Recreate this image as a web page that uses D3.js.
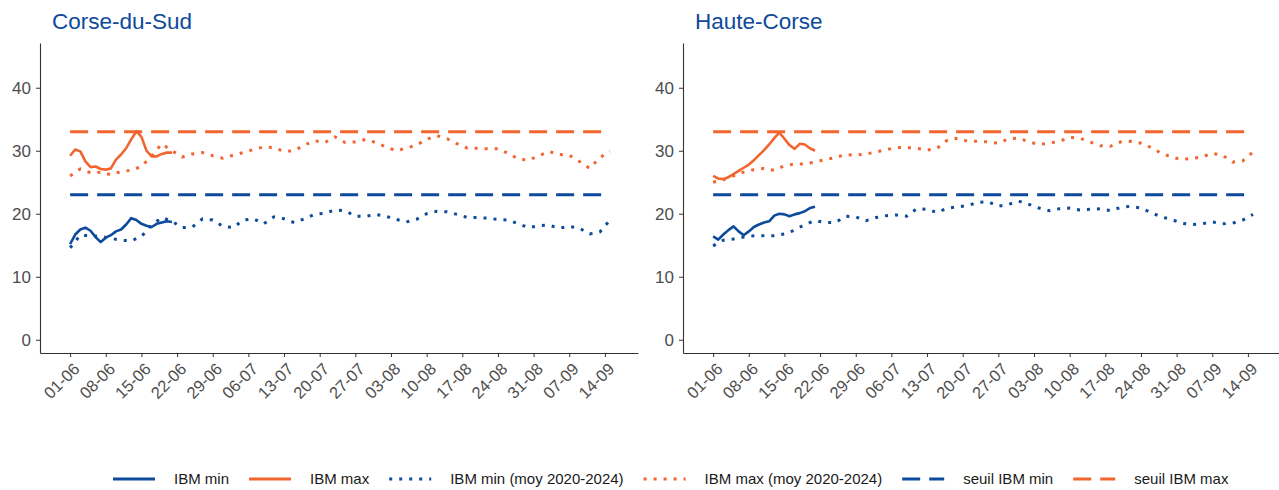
<!DOCTYPE html>
<html>
<head>
<meta charset="utf-8">
<script src="https://cdn.jsdelivr.net/npm/d3@7"></script>
<style>
  body { margin: 0; background: #fff; }
  svg { display: block; font-family: "Liberation Sans", Arial, sans-serif; }
</style>
</head>
<body>
<div class="chart"></div>
<script>
// panels
const regions = ["Corse-du-Sud", "Haute-Corse"];

// x ticks (every 7 days from 01-06)
const tickLabels = ["01-06", "08-06", "15-06", "22-06", "29-06", "06-07", "13-07", "20-07",
  "27-07", "03-08", "10-08", "17-08", "24-08", "31-08", "07-09", "14-09"];
const yTicks = [0, 10, 20, 30, 40];

// seuils
const seuilMin = 23;
const seuilMax = 33;

// observed 2025, daily from 01-06 to 21-06
const obsMinSud = [15.2, 16.7, 17.5, 17.8, 17.3, 16.3, 15.5, 16.2, 16.6, 17.2, 17.5,
  18.3, 19.3, 19.0, 18.4, 18.1, 17.9, 18.4, 18.6, 18.8, 18.7];
const obsMaxSud = [29.2, 30.2, 29.9, 28.3, 27.4, 27.5, 27.1, 27.0, 27.2, 28.6, 29.4,
  30.4, 31.8, 33.1, 32.2, 30.0, 29.1, 29.1, 29.5, 29.7, 29.7];
const obsMinHaute = [16.4, 15.9, 16.7, 17.4, 18.0, 17.2, 16.6, 17.2, 17.9, 18.3, 18.6,
  18.8, 19.7, 20.0, 19.9, 19.6, 19.9, 20.1, 20.4, 20.9, 21.1];
const obsMaxHaute = [26.0, 25.6, 25.5, 25.8, 26.3, 26.8, 27.3, 27.8, 28.5, 29.3, 30.1,
  31.0, 32.0, 32.9, 31.9, 30.9, 30.3, 31.1, 31.0, 30.4, 30.0];

// moyenne 2020-2024, one value every 2 days from 01-06 to 15-09
const avgMinSud = [14.6, 16.6, 16.5, 16.4, 16.1, 15.8, 15.7, 16.4, 18.2, 19.4, 18.8,
  17.8, 17.9, 19.2, 19.0, 18.0, 17.8, 19.0, 19.2, 18.4, 19.5, 19.2, 18.6, 19.2, 19.9,
  20.1, 20.6, 20.5, 19.6, 19.6, 19.9, 19.6, 19.1, 18.7, 19.1, 20.0, 20.4, 20.3, 19.9,
  19.4, 19.4, 19.3, 19.1, 19.0, 18.4, 17.8, 18.1, 18.2, 17.7, 18.0, 17.7, 16.8, 17.1, 19.0];
const avgMaxSud = [26.0, 27.1, 26.5, 26.6, 26.2, 26.7, 26.9, 27.5, 29.2, 31.1, 30.0,
  29.0, 29.5, 29.7, 29.2, 28.8, 29.3, 29.7, 30.2, 30.6, 30.5, 29.9, 30.0, 30.9, 31.6,
  31.3, 32.2, 31.3, 31.4, 31.8, 31.3, 30.6, 30.0, 30.4, 30.9, 31.8, 32.4, 31.9, 31.1,
  30.4, 30.4, 30.3, 30.3, 29.6, 28.7, 28.5, 29.2, 29.9, 29.4, 29.3, 28.3, 27.2, 28.9, 29.9];
const avgMinHaute = [14.9, 15.8, 16.0, 16.3, 16.5, 16.5, 16.5, 16.8, 17.4, 18.3, 18.9,
  18.6, 18.6, 19.6, 19.5, 18.9, 19.4, 19.7, 19.8, 19.6, 20.8, 20.7, 20.2, 20.9, 21.1,
  21.3, 21.8, 21.9, 21.2, 21.5, 22.0, 21.5, 20.9, 20.5, 20.8, 20.9, 20.6, 20.7, 20.8,
  20.5, 21.0, 21.2, 20.9, 20.2, 19.5, 19.1, 18.5, 18.3, 18.4, 18.7, 18.4, 18.5, 19.0, 19.9];
const avgMaxHaute = [25.0, 25.4, 26.0, 26.6, 27.0, 27.2, 26.9, 27.6, 27.9, 27.9, 28.2,
  28.6, 28.9, 29.4, 29.3, 29.5, 29.8, 30.2, 30.5, 30.5, 30.4, 30.1, 30.4, 31.7, 32.0,
  31.5, 31.5, 31.4, 31.2, 31.9, 32.0, 31.4, 31.0, 31.2, 31.5, 32.1, 32.0, 31.4, 30.8,
  30.7, 31.4, 31.5, 31.2, 30.5, 29.6, 29.0, 28.6, 28.8, 29.0, 29.6, 29.3, 28.2, 28.4, 29.8];

const panelData = [
  {obsMin: obsMinSud, obsMax: obsMaxSud, avgMin: avgMinSud, avgMax: avgMaxSud},
  {obsMin: obsMinHaute, obsMax: obsMaxHaute, avgMin: avgMinHaute, avgMax: avgMaxHaute}
];

const blue = "#0d4a9b";
const orange = "#f2652f";
const W = 1279, H = 490;

const svg = d3.select(".chart").append("svg")
  .attr("width", W).attr("height", H);

const start = new Date(2025, 5, 1);
const day = (i) => d3.timeDay.offset(start, i);
const parseTick = (s) => new Date(2025, +s.slice(3) - 1, +s.slice(0, 2));

const panelW = 598, panelLeft = [40, 683];
const plotTop = 43, plotBottom = 353;

const y = d3.scaleLinear().domain([-2.1, 47.1]).range([plotBottom, plotTop]);

regions.forEach(function(name, p) {
  const d = panelData[p];
  const g = svg.append("g");
  const x0 = panelLeft[p];
  const x = d3.scaleTime()
    .domain([d3.timeHour.offset(day(0), -5.9 * 24), d3.timeHour.offset(day(0), 111.5 * 24)])
    .range([x0, x0 + panelW]);

  // title
  g.append("text")
    .attr("x", x0 + 12).attr("y", 29)
    .attr("fill", blue)
    .style("font-size", "22.5px")
    .text(name);

  // axes
  g.append("g")
    .attr("transform", "translate(" + x0 + ",0)")
    .call(d3.axisLeft(y).tickValues(yTicks).tickSize(4).tickSizeOuter(0).tickPadding(5))
    .call(function(a) {
      a.select(".domain").attr("stroke", "#333").attr("stroke-width", 1.1);
      a.selectAll(".tick line").attr("stroke", "#333");
      a.selectAll("text").attr("fill", "#4d4d4d").style("font-size", "17px")
        .attr("font-family", null);
    });

  g.append("g")
    .attr("transform", "translate(0," + plotBottom + ")")
    .call(d3.axisBottom(x).tickValues(tickLabels.map(parseTick)).tickSize(4).tickSizeOuter(0)
      .tickFormat(function(t, i) { return tickLabels[i]; }))
    .call(function(a) {
      a.select(".domain").attr("stroke", "#333").attr("stroke-width", 1.1);
      a.selectAll(".tick line").attr("stroke", "#333");
      a.selectAll("text").attr("fill", "#4d4d4d").style("font-size", "16.5px")
        .attr("font-family", null)
        .attr("text-anchor", "end")
        .attr("y", 0)
        .attr("dy", null)
        .attr("transform", "translate(10,17) rotate(-45)");
    });

  const line = d3.line().x(function(v) { return x(v[0]); }).y(function(v) { return y(v[1]); });
  const obsPts = (arr) => arr.map((v, i) => [day(i), v]);
  const avgPts = (arr) => arr.map((v, i) => [day(i * 2), v]);
  const lastDay = day(106);

  // seuils
  [[seuilMin, blue], [seuilMax, orange]].forEach(function(s) {
    g.append("path")
      .attr("d", line([[day(0), s[0]], [lastDay, s[0]]]))
      .attr("fill", "none").attr("stroke", s[1])
      .attr("stroke-width", 3).attr("stroke-dasharray", "18,9");
  });

  // moyennes
  [[d.avgMin, blue], [d.avgMax, orange]].forEach(function(s) {
    g.append("path")
      .attr("d", line(avgPts(s[0])))
      .attr("fill", "none").attr("stroke", s[1])
      .attr("stroke-width", 3).attr("stroke-dasharray", "3,7");
  });

  // observations
  [[d.obsMin, blue], [d.obsMax, orange]].forEach(function(s) {
    g.append("path")
      .attr("d", line(obsPts(s[0])))
      .attr("fill", "none").attr("stroke", s[1])
      .attr("stroke-width", 2.6).attr("stroke-linejoin", "round");
  });
});

// legend
const legendItems = [
  {label: "IBM min", color: blue, dash: null},
  {label: "IBM max", color: orange, dash: null},
  {label: "IBM min (moy 2020-2024)", color: blue, dash: "3,7"},
  {label: "IBM max (moy 2020-2024)", color: orange, dash: "3,7"},
  {label: "seuil IBM min", color: blue, dash: "18,9"},
  {label: "seuil IBM max", color: orange, dash: "18,9"}
];
const legend = svg.append("g").attr("transform", "translate(0,479)");
let lx = 113;
legendItems.forEach(function(it) {
  legend.append("line")
    .attr("x1", lx).attr("x2", lx + 42).attr("y1", 0).attr("y2", 0)
    .attr("stroke", it.color).attr("stroke-width", 3)
    .attr("stroke-dasharray", it.dash);
  const t = legend.append("text")
    .attr("x", lx + 61).attr("y", 5)
    .attr("fill", "#1a1a1a")
    .style("font-size", "15px")
    .text(it.label);
  lx += 61 + t.node().getComputedTextLength() + 20;
});
</script>
</body>
</html>
